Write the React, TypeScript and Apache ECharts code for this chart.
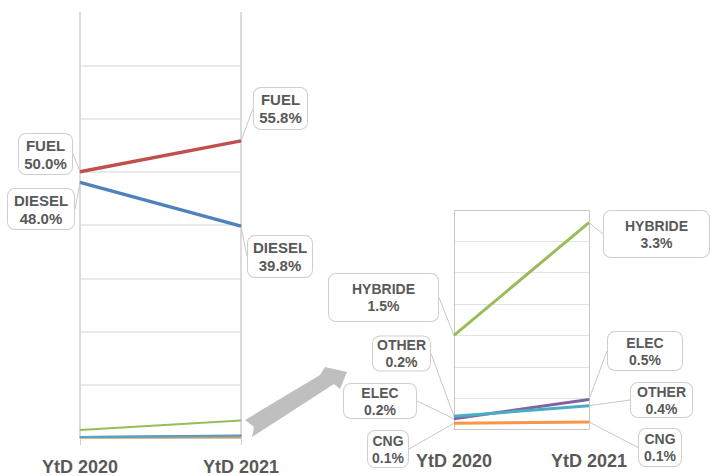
import React, { useEffect, useRef } from 'react';
import * as echarts from 'echarts';

const categories = ['YtD 2020', 'YtD 2021'];
const fuel = [50.0, 55.8];
const diesel = [48.0, 39.8];
const hybride = [1.5, 3.3];
const elec = [0.17, 0.48];
const other = [0.21, 0.38];
const cng = [0.1, 0.12];

const COLORS = {
  fuel: '#c0504d',
  diesel: '#4f81bd',
  hybride: '#9bbb59',
  elec: '#8064a2',
  other: '#4bacc6',
  cng: '#f79646',
};

type Box = { cx: number; cy: number; w: number; h: number };

const BOXES: Record<string, Box[]> = {
  leftFuel: [
    { cx: 45.5, cy: 154, w: 55, h: 42 },
    { cx: 280.5, cy: 108.5, w: 55, h: 43 },
  ],
  leftDiesel: [
    { cx: 41, cy: 209, w: 68, h: 42 },
    { cx: 280, cy: 256.5, w: 66, h: 43 },
  ],
  rightHybride: [
    { cx: 383.5, cy: 297.5, w: 111, h: 49 },
    { cx: 656.5, cy: 234, w: 107, h: 48 },
  ],
  rightOther: [
    { cx: 401.5, cy: 353.5, w: 59, h: 34 },
    { cx: 661.5, cy: 400, w: 63, h: 36 },
  ],
  rightElec: [
    { cx: 380, cy: 401, w: 74, h: 36 },
    { cx: 645, cy: 351, w: 76, h: 40 },
  ],
  rightCng: [
    { cx: 388, cy: 449, w: 42, h: 38 },
    { cx: 660, cy: 447.5, w: 44, h: 39 },
  ],
};

const FONT = "'Liberation Sans', Arial, sans-serif";
const TEXT = '#595959';

function mkSeries(
  name: string,
  data: number[],
  color: string,
  width: number,
  axis: number,
  boxes?: Box[],
  z = 2,
  fontSize = 14,
  lineH = 17
): any {
  const s: any = {
    type: 'line',
    name,
    xAxisIndex: axis,
    yAxisIndex: axis,
    silent: true,
    z,
    symbol: 'circle',
    symbolSize: 1,
    showSymbol: true,
    lineStyle: { color, width },
    itemStyle: { color },
    emphasis: { disabled: true },
    data: data.map((v, i) =>
      boxes
        ? {
            value: v,
            label: {
              width: boxes[i].w - 2,
              padding: [Math.max(0, (boxes[i].h - 2 * lineH) / 2 - 1), 0],
            },
          }
        : v
    ),
  };
  if (boxes) {
    s.label = {
      show: true,
      formatter: (p: any) => `${p.seriesName}\n${Number(p.value).toFixed(1)}%`,
      fontFamily: FONT,
      fontSize,
      fontWeight: 'bold',
      color: TEXT,
      lineHeight: lineH,
      align: 'center',
      backgroundColor: '#ffffff',
      borderColor: '#cfcfcf',
      borderWidth: 1,
      borderRadius: 7,
    };
    s.labelLine = { show: true, lineStyle: { color: '#c8c8c8', width: 1 } };
    s.labelLayout = (p: any) => ({
      x: boxes[p.dataIndex].cx,
      y: boxes[p.dataIndex].cy,
      align: 'center',
      verticalAlign: 'middle',
    });
  } else {
    s.label = { show: false };
  }
  return s;
}

export default function App() {
  const ref = useRef<HTMLDivElement>(null);

  useEffect(() => {
    if (!ref.current) return;
    const chart = echarts.init(ref.current, null, { renderer: 'svg' });

    const leftSplitColors = [
      '#e3e3e3', '#e3e3e3', '#e3e3e3', '#e3e3e3', '#e3e3e3',
      '#e3e3e3', '#e3e3e3', '#e3e3e3', 'rgba(0,0,0,0)',
    ];

    const option: any = {
      animation: false,
      backgroundColor: '#ffffff',
      grid: [
        { left: 80, top: 12, width: 161, height: 426, containLabel: false },
        { left: 454, top: 210, width: 135, height: 219.5, containLabel: false },
      ],
      xAxis: [
        {
          type: 'category',
          gridIndex: 0,
          data: categories,
          boundaryGap: false,
          axisLine: { show: true, lineStyle: { color: '#d0d0d0', width: 1 } },
          axisTick: { show: true, length: 7, interval: 0, lineStyle: { color: '#d0d0d0' } },
          splitLine: { show: true, interval: 0, lineStyle: { color: '#d0d0d0', width: 1.5 } },
          axisLabel: {
            interval: 0,
            margin: 20,
            fontFamily: FONT,
            fontSize: 18,
            fontWeight: 'bold',
            color: TEXT,
          },
        },
        {
          type: 'category',
          gridIndex: 1,
          data: categories,
          boundaryGap: false,
          axisLine: { show: true, lineStyle: { color: '#c8c8c8', width: 1 } },
          axisTick: { show: false },
          splitLine: { show: true, interval: 0, lineStyle: { color: '#c8c8c8', width: 1 } },
          axisLabel: {
            interval: 0,
            margin: 22,
            fontFamily: FONT,
            fontSize: 18,
            fontWeight: 'bold',
            color: TEXT,
          },
        },
      ],
      yAxis: [
        {
          type: 'value',
          gridIndex: 0,
          min: 0,
          max: 80,
          interval: 10,
          axisLine: { show: false },
          axisTick: { show: false },
          axisLabel: { show: false },
          splitLine: { show: true, lineStyle: { color: leftSplitColors, width: 1.5 } },
        },
        {
          type: 'value',
          gridIndex: 1,
          min: 0,
          max: 3.5,
          interval: 0.5,
          axisLine: { show: false },
          axisTick: { show: false },
          axisLabel: { show: false },
          splitLine: {
            show: true,
            lineStyle: {
              color: ['#c8c8c8', '#e3e3e3', '#e3e3e3', '#e3e3e3', '#e3e3e3', '#e3e3e3', '#e3e3e3', '#c8c8c8'],
              width: 1,
            },
          },
        },
      ],
      graphic: [
        {
          type: 'polygon',
          silent: true,
          z: 10,
          shape: {
            points: [
              [245, 420],
              [320, 375],
              [325, 367],
              [347, 372],
              [340, 389],
              [334, 384],
              [252, 437],
              [254, 427],
            ],
          },
          style: { fill: '#bfbfbf', stroke: 'none' },
        },
      ],
      series: [
        mkSeries('CNG', cng, COLORS.cng, 2, 0),
        mkSeries('ELEC', elec, COLORS.elec, 2, 0),
        mkSeries('OTHER', other, COLORS.other, 2, 0),
        mkSeries('HYBRIDE', hybride, COLORS.hybride, 2, 0),
        mkSeries('DIESEL', diesel, COLORS.diesel, 3.5, 0, BOXES.leftDiesel, 3, 15, 18),
        mkSeries('FUEL', fuel, COLORS.fuel, 3.5, 0, BOXES.leftFuel, 3, 15, 18),
        mkSeries('CNG', cng, COLORS.cng, 3, 1, BOXES.rightCng),
        mkSeries('ELEC', elec, COLORS.elec, 3, 1, BOXES.rightElec),
        mkSeries('OTHER', other, COLORS.other, 3, 1, BOXES.rightOther),
        mkSeries('HYBRIDE', hybride, COLORS.hybride, 3, 1, BOXES.rightHybride),
      ],
    };

    chart.setOption(option);
    return () => chart.dispose();
  }, []);

  return (
    <div
      ref={ref}
      style={{ position: 'fixed', left: 0, top: 0, width: 711, height: 476 }}
    />
  );
}
